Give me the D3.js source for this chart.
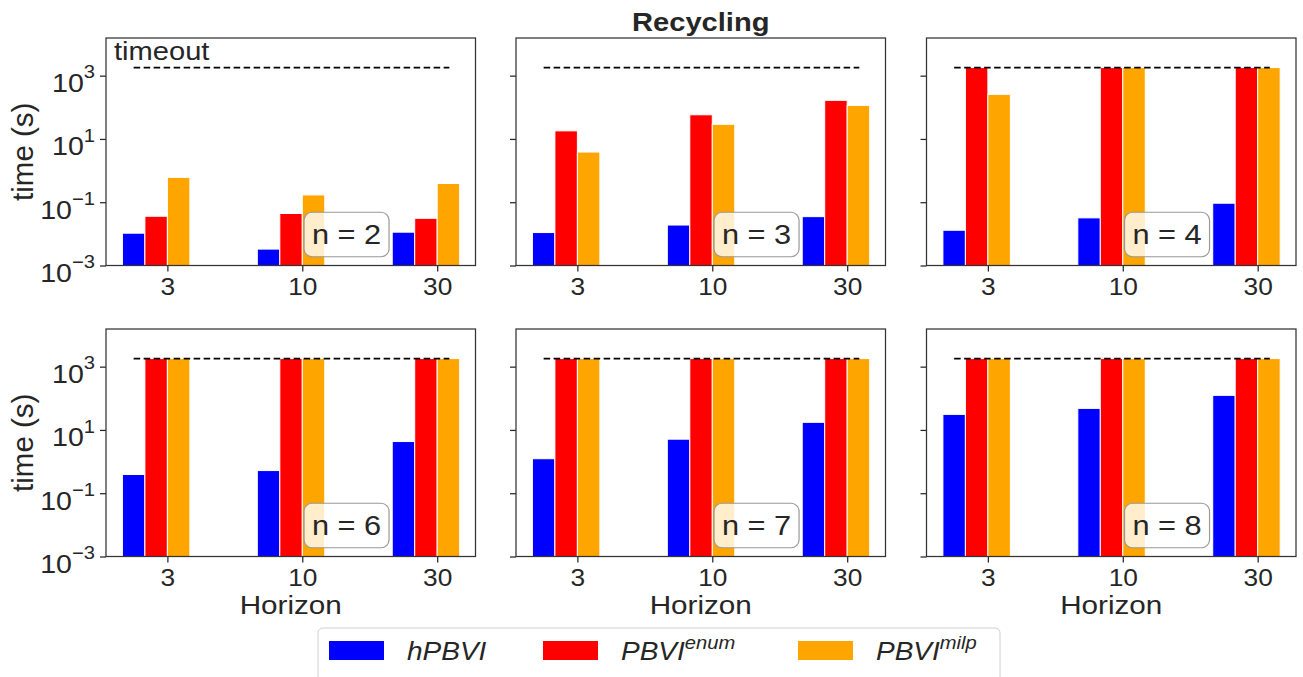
<!DOCTYPE html>
<html>
<head>
<meta charset="utf-8">
<script src="https://cdn.jsdelivr.net/npm/d3@7"></script>
<style>
  body { margin: 0; background: #fff; }
  text { font-family: "Liberation Sans", Arial, sans-serif; fill: #262626; }
</style>
</head>
<body>
<svg id="chart" width="1303" height="677"></svg>
<script>
// horizons on the x axis, one panel per problem size n
const horizons = ['3', '10', '30'];
const nValues = [2, 3, 4, 6, 7, 8];
const timeout = 1800;

// run times (s), one row per panel, one value per horizon
const hpbvi = [
  [0.0105, 0.0033, 0.0113],
  [0.011, 0.019, 0.035],
  [0.013, 0.032, 0.093],
  [0.39, 0.52, 4.3],
  [1.23, 5.1, 17.4],
  [31, 48, 124]
];
const pbviEnum = [
  [0.036, 0.044, 0.031],
  [18, 58, 166],
  [1800, 1800, 1800],
  [1800, 1800, 1800],
  [1800, 1800, 1800],
  [1800, 1800, 1800]
];
const pbviMilp = [
  [0.61, 0.17, 0.39],
  [3.85, 29, 115],
  [257, 1800, 1800],
  [1800, 1800, 1800],
  [1800, 1800, 1800],
  [1800, 1800, 1800]
];

const seriesNames = ['hPBVI', 'PBVI', 'PBVI'];
const seriesSups = ['', 'enum', 'milp'];
const colors = ['#0000ff', '#ff0000', '#ffa500'];
const yTicks = [1e-3, 1e-1, 1e1, 1e3];

const SX = 1.12; // text looks horizontally stretched in the source
const svg = d3.select('#chart');

const colLefts = [106, 516, 926.5];
const rowTops = [38, 329];
const w = 369.5, h = 227.5;

const x = d3.scaleLinear().domain([-0.455, 2.284]).range([0, w]);
const y = d3.scaleLog().domain([1e-3, Math.pow(10, 4.19)]).range([h, 0]);
const barW = x(1 / 6) - x(0);

function stretchText(g, tx, ty, str, size, opts = {}) {
  return g.append('text')
    .attr('transform', `translate(${tx},${ty}) scale(${SX},1)`)
    .attr('text-anchor', opts.anchor || 'start')
    .style('font-size', size + 'px')
    .style('font-weight', opts.weight || 'normal')
    .style('font-style', opts.style || 'normal')
    .text(str);
}

nValues.forEach((n, p) => {
  const col = p % 3, row = Math.floor(p / 3);
  const g = svg.append('g').attr('transform', `translate(${colLefts[col]},${rowTops[row]})`);
  const series = [hpbvi[p], pbviEnum[p], pbviMilp[p]];

  // bars
  series.forEach((vals, s) => {
    g.selectAll(null)
      .data(vals)
      .enter()
      .append('rect')
      .attr('x', (d, i) => x(i - 1 / 3 + s / 6))
      .attr('width', barW)
      .attr('y', d => y(d))
      .attr('height', d => y(1e-3) - y(d))
      .attr('fill', colors[s])
      .attr('stroke', '#fff')
      .attr('stroke-width', 1);
  });

  // timeout line
  g.append('line')
    .attr('x1', x(-0.25)).attr('x2', x(2.09))
    .attr('y1', y(timeout)).attr('y2', y(timeout))
    .attr('stroke', '#000').attr('stroke-width', 1.8)
    .attr('stroke-dasharray', '6.5,3.5');

  if (p === 0) stretchText(g, 8, 22, 'timeout', 26);

  // n label box
  const bx = 0.536 * w, by = 0.766 * h;
  g.append('rect')
    .attr('x', bx).attr('y', by).attr('width', 85).attr('height', 44.5)
    .attr('rx', 8)
    .attr('fill', '#fff').attr('fill-opacity', 0.8)
    .attr('stroke', '#999').attr('stroke-width', 1.2);
  stretchText(g, bx + 42.5, by + 32, `n = ${n}`, 27.5, { anchor: 'middle' });

  // axes
  const xAxis = g.append('g')
    .attr('transform', `translate(0,${h})`)
    .call(d3.axisBottom(x).tickValues([0, 1, 2]).tickFormat(i => horizons[i])
      .tickSize(6).tickPadding(7));
  xAxis.selectAll('text').style('font-size', '23.5px').attr('transform', `scale(${SX},1)`);

  const yAxis = g.append('g')
    .call(d3.axisLeft(y).tickValues(yTicks).tickFormat('').tickSize(6));

  if (col === 0) {
    yAxis.selectAll('.tick').each(function (d) {
      const t = d3.select(this).append('text')
        .attr('text-anchor', 'end')
        .attr('transform', `translate(-11,0) scale(${SX},1)`)
        .attr('fill', '#262626')
        .style('font-size', '25.5px');
      t.append('tspan').attr('dy', '0.62em').text('10');
      t.append('tspan').attr('dy', '-0.75em').style('font-size', '18px')
        .text(String(Math.round(Math.log10(d))).replace('-', '\u2212'));
    });
    svg.append('text')
      .attr('transform', `translate(33,${rowTops[row] + h / 2}) rotate(-90)`)
      .attr('text-anchor', 'middle')
      .style('font-size', '29.5px')
      .text('time (s)');
  }

  [xAxis, yAxis].forEach(a => {
    a.select('.domain').remove();
    a.selectAll('line').attr('stroke', '#262626').attr('stroke-width', 1.25);
  });

  g.append('rect')
    .attr('width', w).attr('height', h)
    .attr('fill', 'none').attr('stroke', '#333').attr('stroke-width', 1.25);

  if (row === 1) stretchText(g, w / 2, h + 57, 'Horizon', 26.5, { anchor: 'middle' });
});

stretchText(svg, colLefts[1] + w / 2, 31, 'Recycling', 26, { anchor: 'middle', weight: 'bold' });

// legend
const lg = svg.append('g');
lg.append('rect')
  .attr('x', 318).attr('y', 628).attr('width', 682).attr('height', 62)
  .attr('rx', 5).attr('fill', '#fff').attr('stroke', '#d0d0d0');
const legX = [329, 543, 798];
seriesNames.forEach((name, s) => {
  lg.append('rect')
    .attr('x', legX[s]).attr('y', 641).attr('width', 55).attr('height', 19)
    .attr('fill', colors[s]);
  const t = lg.append('text')
    .attr('transform', `translate(${legX[s] + 78},660) scale(${SX},1)`)
    .style('font-size', '25px').style('font-style', 'italic');
  t.append('tspan').text(name);
  if (seriesSups[s]) {
    t.append('tspan').attr('dy', '-0.6em').style('font-size', '18px').text(seriesSups[s]);
  }
});
</script>
</body>
</html>
